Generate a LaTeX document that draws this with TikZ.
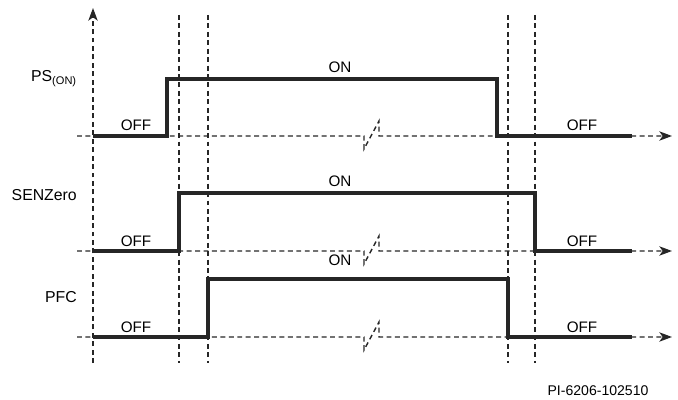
\documentclass[tikz,border=0pt]{standalone}
\usepackage{fontspec}
\setmainfont{Liberation Sans}
\usetikzlibrary{arrows.meta, positioning}

\begin{document}
\begin{tikzpicture}[
    x=0.03cm, y=-0.03cm,
    guide/.style={line width=1.2pt, dash pattern=on 4.2pt off 3pt, black!85},
    axis/.style={guide, -{Stealth[length=3.8mm, width=2.8mm, inset=1mm]}},
    wave/.style={line width=2.7pt, black!85, line join=miter},
    signame/.style={font=\fontsize{13.5}{15}\selectfont, anchor=base east, inner sep=0pt},
    state/.style={font=\fontsize{13}{15}\selectfont, anchor=base, inner sep=0pt}
]
\useasboundingbox (0,0) rectangle (678,400);

% time markers
\foreach \x in {179,208,508,535}
    \draw[guide] (\x,15) -- (\x,363);
\draw[axis] (93,363) -- (93,8);

% signals: name / low / high / rise / fall / label / ON baseline / label baseline
\foreach \sig/\base/\high/\up/\down/\txt/\onb/\nb in {
    ps/136/79/167/497/{PS\textsubscript{(ON)}}/73/82,
    senz/251/193/179/535/{SENZero}/187/200,
    pfc/337/279/208/508/{PFC}/265/302}
{
    \coordinate (\sig-low) at (93,\base);
    \coordinate (\sig-end) at (632,\base);
    \draw[axis] (77,\base) -- (364,\base) -- (364,\base+13) -- (379,\base-15)
        -- (379,\base) -- (672,\base);
    \draw[wave] (\sig-low) -| (\up,\high) -| (\down,\base) -- (\sig-end);
    \node[signame] (\sig-name) at (77,\nb) {\txt};
    \node[state] (\sig-off) at (136,\base-5) {OFF};
    \node[state] (\sig-offr) at (582,\base-5) {OFF};
    \node[state] (\sig-on) at (340,\onb) {ON};
}

\node[font=\fontsize{12}{14}\selectfont, anchor=base, inner sep=0pt] (ref) at (598,395) {PI-6206-102510};
\end{tikzpicture}
\end{document}
